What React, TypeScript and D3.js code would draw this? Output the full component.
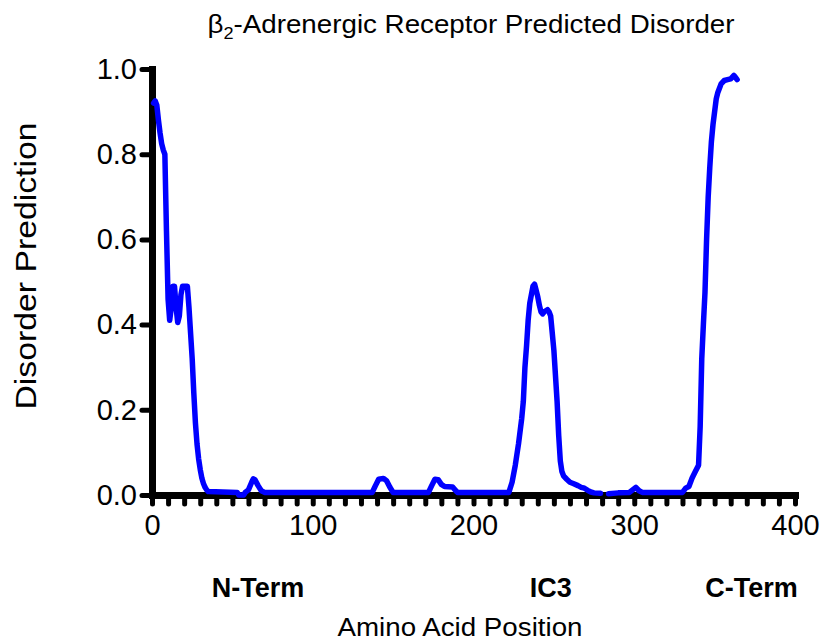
import { useRef, useEffect } from 'react'
import * as d3 from 'd3'

// residue position -> predicted disorder (null = gap in the prediction)
const residue = [
  1, 2, 3, 4, 5, 6, 7, 8, 9, 10, 11, 12, 13, 14, 15, 16, 17, 18, 19, 20, 21, 22, 23, 24, 25,
  26, 27, 28, 29, 30, 31, 32, 33, 34, 35, 53, 54, 57, 58, 60, 62, 63, 64, 66, 68, 70,
  137, 139, 141, 144, 146, 148, 150, 172, 174, 176, 178, 180, 182, 187, 189, 190,
  222, 224, 226, 228, 230, 231, 232, 233, 234, 235, 236, 237, 238, 239, 240, 241, 242, 243,
  244, 246, 247, 248, 249, 250, 251, 252, 253, 254, 255, 256, 258, 260, 262, 265, 267, 269,
  271, 273, 275, 279, 281, 284, 290, 297, 299, 301, 303, 305, 330, 332, 334, 336, 338, 340,
  341, 342, 343, 344, 345, 346, 347, 348, 349, 350, 351, 352, 353, 354, 356, 358, 360, 362,
  363, 364,
]
const disorder: (number | null)[] = [
  0.92, 0.925, 0.915, 0.88, 0.85, 0.825, 0.81, 0.8, 0.62, 0.46, 0.41, 0.44, 0.49, 0.49, 0.44,
  0.405, 0.42, 0.47, 0.49, 0.49, 0.49, 0.49, 0.44, 0.38, 0.32,
  0.24, 0.17, 0.12, 0.085, 0.06, 0.04, 0.027, 0.018, 0.012, 0.008, 0.006, 0.0, 0.0, 0.006,
  0.012, 0.03, 0.038, 0.036, 0.022, 0.01, 0.006,
  0.006, 0.022, 0.037, 0.039, 0.033, 0.018, 0.006, 0.006, 0.022, 0.037, 0.036, 0.025, 0.02,
  0.019, 0.01, 0.006,
  0.006, 0.03, 0.07, 0.12, 0.18, 0.22, 0.3, 0.35, 0.41, 0.45, 0.47, 0.49, 0.495, 0.48, 0.465,
  0.445, 0.43, 0.425,
  0.43, 0.435, 0.43, 0.42, 0.38, 0.34, 0.28, 0.22, 0.14, 0.08, 0.055, 0.045, 0.037, 0.03,
  0.027, 0.022, 0.018, 0.016,
  0.011, 0.007, 0.005, 0.004, null, 0.003, 0.005, 0.006, 0.012, 0.018, 0.01, 0.006, 0.006,
  0.016, 0.02, 0.04, 0.055, 0.07,
  0.16, 0.32, 0.4, 0.475, 0.6, 0.7, 0.77, 0.83, 0.87, 0.9, 0.93, 0.945, 0.955, 0.965, 0.973,
  0.975, 0.977, 0.985,
  0.98, 0.975,
]

const yTicks = [0, 0.2, 0.4, 0.6, 0.8, 1.0]
const xTicks = d3.range(0, 401, 10)
const regionNames = ['N-Term', 'IC3', 'C-Term']
const regionPos = [66, 248, 373]

const FONT = 'Arial, "Liberation Sans", sans-serif'

export default function App() {
  const svgRef = useRef<SVGSVGElement>(null)

  useEffect(() => {
    if (!svgRef.current) return
    const svg = d3.select(svgRef.current)
    svg.selectAll('*').remove()

    const x = d3.scaleLinear().domain([0, 400]).range([152, 795])
    const y = d3.scaleLinear().domain([0, 1]).range([495, 69])

    // Title
    const title = svg
      .append('text')
      .attr('x', 471)
      .attr('y', 33)
      .attr('text-anchor', 'middle')
      .attr('font-family', FONT)
      .attr('font-size', 26)
      .attr('textLength', 527)
      .attr('lengthAdjust', 'spacingAndGlyphs')
    title.append('tspan').text('β')
    title.append('tspan').attr('font-size', 17).attr('dy', 6).text('2')
    title.append('tspan').attr('dy', -6).text('-Adrenergic Receptor Predicted Disorder')

    // Y axis
    const gy = svg
      .append('g')
      .attr('transform', 'translate(152,0)')
      .call(d3.axisLeft(y).tickValues(yTicks).tickSize(10).tickSizeOuter(0).tickPadding(5).tickFormat(d3.format('.1f')))
    gy.select('.domain').attr('stroke', '#000').attr('stroke-width', 7).attr('stroke-linecap', 'square')
    gy.selectAll('.tick line').attr('stroke', '#000').attr('stroke-width', 5).attr('stroke-linecap', 'round')
    gy.selectAll('.tick text').attr('font-family', FONT).attr('font-size', 29).attr('fill', '#000')

    // X axis, minor ticks every 10
    const gx = svg
      .append('g')
      .attr('transform', 'translate(0,495)')
      .call(
        d3
          .axisBottom(x)
          .tickValues(xTicks)
          .tickSize(9)
          .tickSizeOuter(0)
          .tickPadding(10)
          .tickFormat((d) => ((d as number) % 100 === 0 ? String(d) : ''))
      )
    gx.select('.domain').attr('stroke', '#000').attr('stroke-width', 7).attr('stroke-linecap', 'square')
    gx.selectAll('.tick line').attr('stroke', '#000').attr('stroke-width', 5).attr('stroke-linecap', 'round')
    gx.selectAll('.tick text').attr('font-family', FONT).attr('font-size', 29).attr('fill', '#000')

    // Disorder curve
    const pts = residue.map((r, i) => [r, disorder[i]] as [number, number | null])
    const line = d3
      .line<[number, number | null]>()
      .defined((d) => d[1] != null)
      .x((d) => x(d[0]))
      .y((d) => y(d[1] as number))
    svg
      .append('path')
      .datum(pts)
      .attr('fill', 'none')
      .attr('stroke', '#0000ff')
      .attr('stroke-width', 5.5)
      .attr('stroke-linejoin', 'round')
      .attr('stroke-linecap', 'round')
      .attr('d', line)

    // Region labels
    svg
      .selectAll('.region')
      .data(regionNames)
      .join('text')
      .attr('class', 'region')
      .attr('x', (_, i) => x(regionPos[i]))
      .attr('y', 597)
      .attr('text-anchor', 'middle')
      .attr('font-family', FONT)
      .attr('font-weight', 'bold')
      .attr('font-size', 27)
      .text((d) => d)

    // Axis titles
    svg
      .append('text')
      .attr('x', 460)
      .attr('y', 636)
      .attr('text-anchor', 'middle')
      .attr('font-family', FONT)
      .attr('font-size', 25)
      .attr('textLength', 245)
      .attr('lengthAdjust', 'spacingAndGlyphs')
      .text('Amino Acid Position')

    svg
      .append('text')
      .attr('transform', 'translate(36,266) rotate(-90)')
      .attr('text-anchor', 'middle')
      .attr('font-family', FONT)
      .attr('font-size', 30)
      .attr('textLength', 287)
      .attr('lengthAdjust', 'spacingAndGlyphs')
      .text('Disorder Prediction')
  }, [])

  return (
    <svg
      ref={svgRef}
      width={823}
      height={640}
      style={{ position: 'absolute', left: 0, top: 0, background: '#fff' }}
    />
  )
}
